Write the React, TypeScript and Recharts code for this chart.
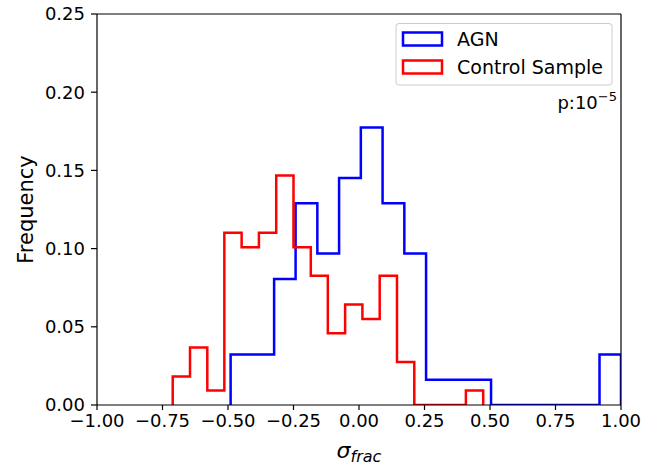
import React from 'react';
import { LineChart, Line, XAxis, YAxis, ReferenceLine } from 'recharts';

const agnEdges = [-0.49, -0.407, -0.324, -0.242, -0.159, -0.076, 0.007, 0.09, 0.173, 0.256, 0.338, 0.421, 0.504, 0.587, 0.669, 0.752, 0.835, 0.918, 1.0];
const agnFreq = [0.0323, 0.0323, 0.0806, 0.129, 0.0968, 0.1452, 0.1774, 0.129, 0.0968, 0.0161, 0.0161, 0.0161, 0, 0, 0, 0, 0, 0.0323];

const ctrlEdges = [-0.711, -0.645, -0.579, -0.514, -0.448, -0.382, -0.316, -0.25, -0.184, -0.119, -0.053, 0.013, 0.079, 0.145, 0.211, 0.276, 0.342, 0.408, 0.474];
const ctrlFreq = [0.0183, 0.0367, 0.0092, 0.1101, 0.1009, 0.1101, 0.1468, 0.1009, 0.0826, 0.0459, 0.0642, 0.055, 0.0826, 0.0275, 0, 0, 0, 0.0092];

const xTicks = [-1, -0.75, -0.5, -0.25, 0, 0.25, 0.5, 0.75, 1];
const yTicks = [0, 0.05, 0.1, 0.15, 0.2, 0.25];

const seriesNames = ['AGN', 'Control Sample'];
const seriesColors = ['#0000ff', '#ff0000'];

function stepPoints(edges: number[], freq: number[]) {
  const pts: { x: number; y: number }[] = [{ x: edges[0], y: 0 }];
  freq.forEach((f, i) => pts.push({ x: edges[i], y: f }));
  pts.push({ x: edges[edges.length - 1], y: freq[freq.length - 1] });
  pts.push({ x: edges[edges.length - 1], y: 0 });
  return pts;
}

const agnPts = stepPoints(agnEdges, agnFreq);
const ctrlPts = stepPoints(ctrlEdges, ctrlFreq);

const FONT = 'DejaVu Sans';
const fmt = (v: number) => (v < 0 ? '\u2212' + Math.abs(v).toFixed(2) : v.toFixed(2));

export default function App() {
  return (
    <div style={{ position: 'absolute', left: 0, top: 0, width: 657, height: 466, background: '#fff' }}>
      <LineChart width={657} height={466} margin={{ top: 14, right: 36, bottom: 0, left: 0 }}>
        <XAxis
          dataKey="x"
          type="number"
          domain={[-1, 1]}
          ticks={xTicks}
          allowDataOverflow
          tickFormatter={fmt}
          height={61}
          tickSize={5}
          tickMargin={4}
          stroke="#000"
          axisLine={{ stroke: '#000', strokeWidth: 1.2 }}
          tickLine={{ stroke: '#000', strokeWidth: 1.2 }}
          tick={{ fill: '#000', fontSize: 18, fontFamily: FONT }}
          label={{
            content: () => (
              <text x={359} y={458} textAnchor="middle" fontFamily={FONT} fill="#000">
                <tspan fontSize={22} fontStyle="italic">σ</tspan>
                <tspan fontSize={16} fontStyle="italic" dy={4}>frac</tspan>
              </text>
            ),
          }}
        />
        <YAxis
          type="number"
          domain={[0, 0.25]}
          ticks={yTicks}
          allowDataOverflow
          tickFormatter={(v: number) => v.toFixed(2)}
          width={97}
          tickSize={6}
          tickMargin={6}
          stroke="#000"
          axisLine={{ stroke: '#000', strokeWidth: 1.2 }}
          tickLine={{ stroke: '#000', strokeWidth: 1.2 }}
          tick={{ fill: '#000', fontSize: 18, fontFamily: FONT }}
          label={{
            content: () => (
              <text
                x={33}
                y={209.5}
                transform="rotate(-90 33 209.5)"
                textAnchor="middle"
                fontFamily={FONT}
                fontSize={21}
                fill="#000"
              >
                Frequency
              </text>
            ),
          }}
        />
        <Line
          data={agnPts}
          dataKey="y"
          type="stepAfter"
          stroke={seriesColors[0]}
          strokeWidth={2.5}
          dot={false}
          activeDot={false}
          isAnimationActive={false}
          name={seriesNames[0]}
        />
        <Line
          data={ctrlPts}
          dataKey="y"
          type="stepAfter"
          stroke={seriesColors[1]}
          strokeWidth={2.5}
          dot={false}
          activeDot={false}
          isAnimationActive={false}
          name={seriesNames[1]}
        />
        <ReferenceLine y={0.25} stroke="#000" strokeWidth={1.2} ifOverflow="visible" />
        <ReferenceLine x={1} stroke="#000" strokeWidth={1.2} ifOverflow="visible" />
      </LineChart>
      <svg
        width={657}
        height={466}
        style={{ position: 'absolute', left: 0, top: 0, pointerEvents: 'none' }}
      >
        <rect x={396} y={23.5} width={216} height={61.5} rx={3} fill="#fff" fillOpacity={0.8} stroke="#cccccc" strokeWidth={1} />
        {seriesNames.map((n, i) => (
          <g key={n}>
            <rect x={403} y={i === 0 ? 32.5 : 60.5} width={39} height={13} fill="none" stroke={seriesColors[i]} strokeWidth={2.5} />
            <text x={457} y={i === 0 ? 45.7 : 74} fontFamily={FONT} fontSize={19} fill="#000">
              {n}
            </text>
          </g>
        ))}
        <text x={617} y={109} textAnchor="end" fontFamily={FONT} fontSize={18} fill="#000">
          p:10
          <tspan fontSize={13} dy={-8}>
            {'\u22125'}
          </tspan>
        </text>
      </svg>
    </div>
  );
}
